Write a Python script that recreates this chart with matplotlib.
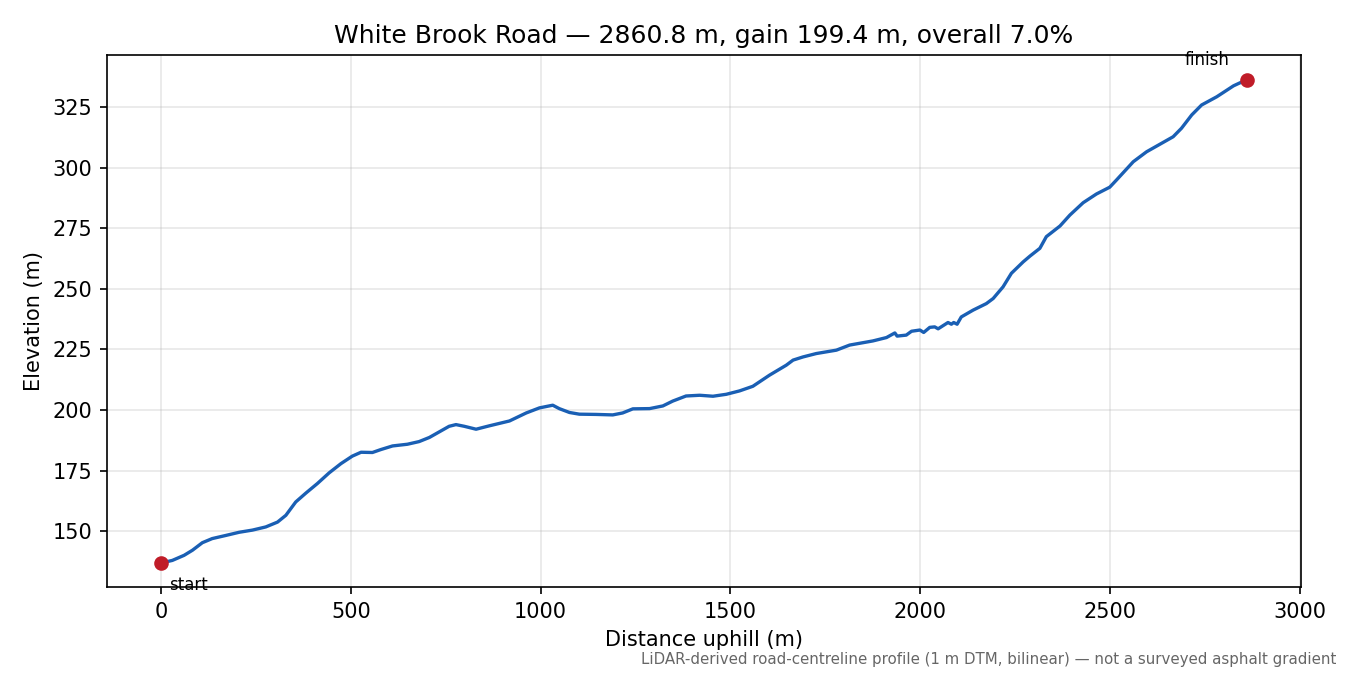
import numpy as np
import matplotlib
matplotlib.use("Agg")
import matplotlib.pyplot as plt

# profile (distance uphill in m, elevation in m)
dist = [0, 30, 61, 83, 109, 135, 171, 206, 241, 276, 307, 329, 355, 382, 412,
        443, 474, 504, 527, 557, 579, 610, 649, 680, 707, 733, 759, 777, 799,
        830, 865, 918, 962, 997, 1032, 1049, 1076, 1102, 1146, 1190, 1216, 1243,
        1287, 1322, 1348, 1383, 1419, 1454, 1489, 1524, 1559, 1603, 1647, 1665,
        1691, 1726, 1779, 1814, 1875, 1911, 1933, 1939, 1963, 1977, 1999, 2009,
        2025, 2038, 2047, 2073, 2082, 2088, 2097, 2108, 2139, 2174, 2192, 2218,
        2240, 2271, 2289, 2315, 2332, 2368, 2394, 2429, 2464, 2499, 2517, 2561,
        2596, 2631, 2666, 2688, 2715, 2741, 2781, 2825, 2860.8]
elev = [136.9, 138.0, 140.1, 142.2, 145.3, 147.0, 148.3, 149.6, 150.5, 151.8,
        153.8, 156.6, 162.1, 165.8, 169.7, 174.1, 177.9, 181.0, 182.6, 182.5,
        183.7, 185.2, 185.9, 187.0, 188.7, 191.0, 193.3, 194.0, 193.3, 192.1,
        193.5, 195.5, 198.8, 200.9, 202.0, 200.6, 199.0, 198.3, 198.2, 198.0,
        198.8, 200.5, 200.6, 201.7, 203.7, 205.8, 206.1, 205.7, 206.5, 207.9,
        209.8, 214.4, 218.5, 220.6, 221.9, 223.3, 224.7, 226.8, 228.5, 229.9,
        231.8, 230.5, 230.9, 232.5, 233.0, 232.0, 234.1, 234.3, 233.5, 236.1,
        235.4, 236.1, 235.4, 238.4, 241.2, 243.9, 246.0, 250.8, 256.4, 261.1,
        263.5, 266.7, 271.5, 275.9, 280.4, 285.5, 289.1, 291.9, 294.9, 302.4,
        306.5, 309.6, 312.7, 316.2, 321.7, 325.8, 329.2, 333.7, 336.3]

road = "White Brook Road"
note = "LiDAR-derived road-centreline profile (1 m DTM, bilinear) \u2014 not a surveyed asphalt gradient"

dist = np.array(dist)
elev = np.array(elev)
length = dist[-1]
gain = elev[-1] - elev[0]

fig, ax = plt.subplots(figsize=(9, 4.5), dpi=150)
fig.subplots_adjust(left=0.079, right=0.964, top=0.918, bottom=0.130)

ax.plot(dist, elev, color="#1a5fb4", lw=1.6)
ax.plot([dist[0], dist[-1]], [elev[0], elev[-1]], "o", color="#c01c28", ms=6)
ax.annotate("start", (dist[0], elev[0]), xytext=(4, -6), textcoords="offset points",
            fontsize=8, va="top", ha="left")
ax.annotate("finish", (dist[-1], elev[-1]), xytext=(-19, 5), textcoords="offset points",
            fontsize=8, va="bottom", ha="center")

ax.grid(True, alpha=0.3)
ax.set_xlabel("Distance uphill (m)")
ax.set_ylabel("Elevation (m)")
ax.set_title(f"{road} \u2014 {length:.1f} m, gain {gain:.1f} m, overall {gain / length * 100:.1f}%")
fig.text(0.99, 0.012, note, ha="right", va="bottom", fontsize=7.2, color="#666666")

fig.savefig("out.png", dpi=150)
